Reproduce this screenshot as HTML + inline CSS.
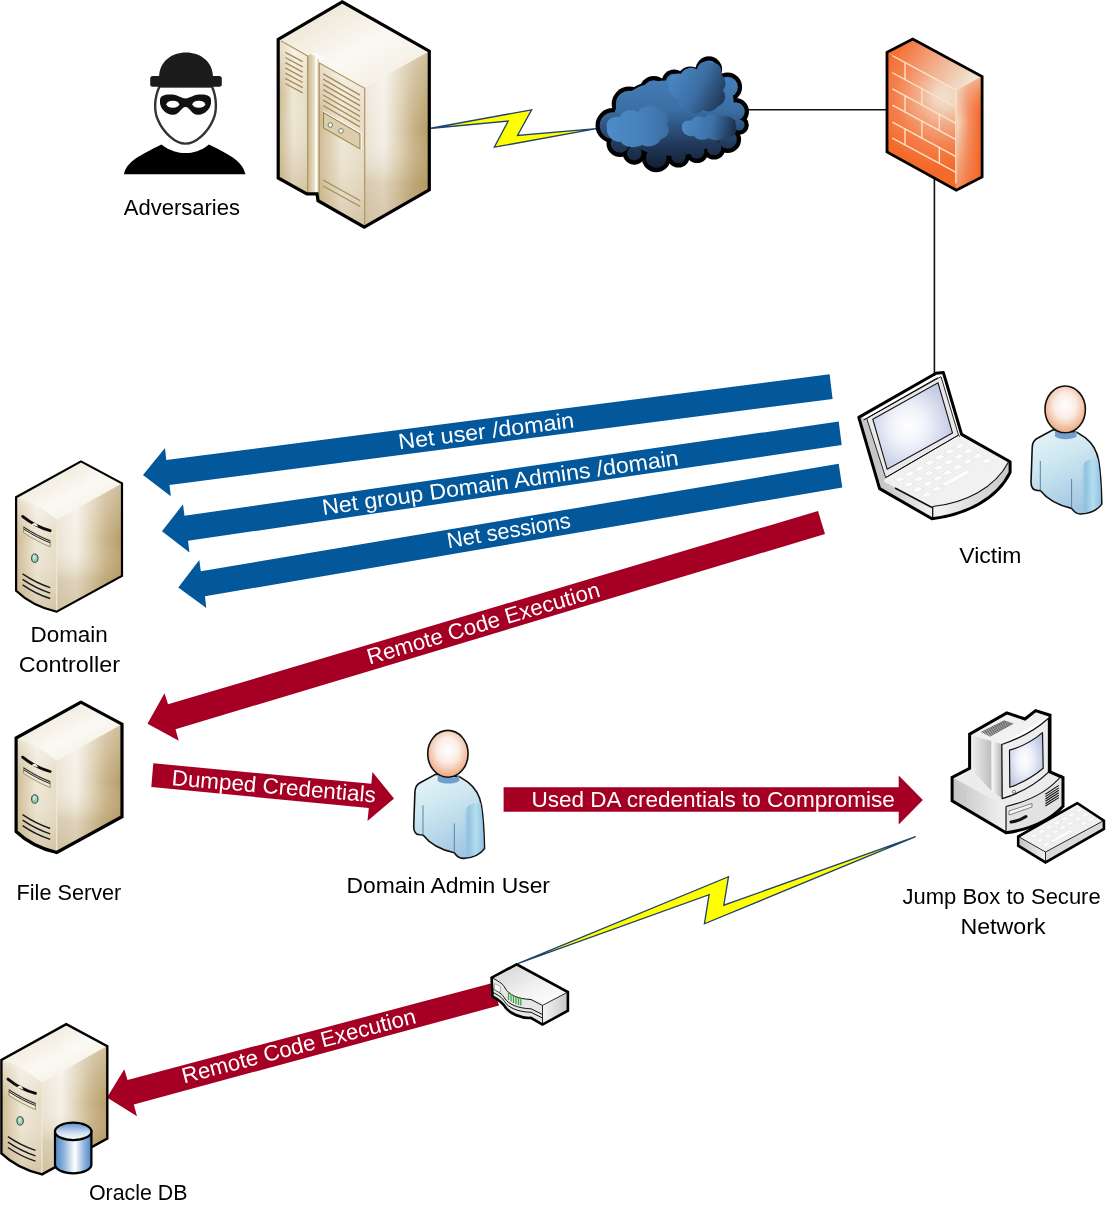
<!DOCTYPE html>
<html>
<head>
<meta charset="utf-8">
<title>Attack path diagram</title>
<style>
html,body{margin:0;padding:0;background:#fff;}
body{width:1120px;height:1220px;overflow:hidden;font-family:"Liberation Sans",sans-serif;}
svg{display:block;will-change:transform;filter:blur(0.45px);}
text{font-family:"Liberation Sans",sans-serif;font-size:22px;}
.lbl{fill:#000;}
.wt{fill:#fff;}
</style>
</head>
<body>
<svg width="1120" height="1220" viewBox="0 0 1120 1220">
<defs>

<linearGradient id="gTop" x1="0" y1="0" x2="1" y2="1">
<stop offset="0" stop-color="#e9dfca"/><stop offset="0.55" stop-color="#fbf9f4"/><stop offset="1" stop-color="#f1eadb"/>
</linearGradient>
<linearGradient id="gFront" x1="0" y1="0" x2="1" y2="0">
<stop offset="0" stop-color="#cdb98f"/><stop offset="0.5" stop-color="#eee6d5"/><stop offset="1" stop-color="#e6dcc5"/>
</linearGradient>
<linearGradient id="gSide" x1="0" y1="0" x2="1" y2="0">
<stop offset="0" stop-color="#ebe3d3"/><stop offset="0.3" stop-color="#f4f0e7"/><stop offset="0.52" stop-color="#e0d4b9"/><stop offset="0.75" stop-color="#c8b388"/><stop offset="1" stop-color="#b69c66"/>
</linearGradient>
<linearGradient id="gSideV" x1="0" y1="0" x2="0" y2="1">
<stop offset="0" stop-color="#ffffff" stop-opacity="0.35"/><stop offset="0.45" stop-color="#ffffff" stop-opacity="0"/><stop offset="0.75" stop-color="#a88a52" stop-opacity="0.28"/><stop offset="1" stop-color="#a88a52" stop-opacity="0.4"/>
</linearGradient>
<linearGradient id="gGroove" x1="0" y1="0" x2="1" y2="0">
<stop offset="0" stop-color="#c9b68c"/><stop offset="0.6" stop-color="#e9dfc8"/><stop offset="0.75" stop-color="#ffffff"/><stop offset="1" stop-color="#cdbb94"/>
</linearGradient>
<linearGradient id="gFrontV" x1="0" y1="0" x2="0" y2="1">
<stop offset="0" stop-color="#fff" stop-opacity="0.55"/><stop offset="0.35" stop-color="#fff" stop-opacity="0"/><stop offset="1" stop-color="#a98f5a" stop-opacity="0.35"/>
</linearGradient>

<linearGradient id="gCloud" gradientUnits="userSpaceOnUse" x1="0" y1="60" x2="0" y2="170">
<stop offset="0" stop-color="#4a86c2"/><stop offset="0.45" stop-color="#3b6fa4"/><stop offset="0.75" stop-color="#233c5e"/><stop offset="1" stop-color="#111c30"/>
</linearGradient>
<linearGradient id="gCl1" gradientUnits="userSpaceOnUse" x1="606" y1="0" x2="672" y2="0">
<stop offset="0" stop-color="#4e8cc8"/><stop offset="0.6" stop-color="#457fb9"/><stop offset="1" stop-color="#3a6a9e"/>
</linearGradient>
<linearGradient id="gCl2" gradientUnits="userSpaceOnUse" x1="668" y1="75" x2="726" y2="105">
<stop offset="0" stop-color="#4c89c5"/><stop offset="0.5" stop-color="#3c6ea4"/><stop offset="1" stop-color="#1c2f4c"/>
</linearGradient>
<linearGradient id="gCl3" gradientUnits="userSpaceOnUse" x1="682" y1="120" x2="737" y2="130">
<stop offset="0" stop-color="#4d8bc7"/><stop offset="0.55" stop-color="#3d70a6"/><stop offset="1" stop-color="#1a2b46"/>
</linearGradient>
<radialGradient id="gFwFront" gradientUnits="userSpaceOnUse" cx="945" cy="96" r="72">
<stop offset="0" stop-color="#efdfcb"/><stop offset="0.14" stop-color="#f0d7c1"/><stop offset="0.4" stop-color="#f3a985"/><stop offset="0.7" stop-color="#f47f4b"/><stop offset="1" stop-color="#f46a2b"/>
</radialGradient>
<linearGradient id="gFwTop" gradientUnits="userSpaceOnUse" x1="900" y1="45" x2="965" y2="88">
<stop offset="0" stop-color="#f46f33"/><stop offset="0.45" stop-color="#f3a682"/><stop offset="1" stop-color="#eee3cf"/>
</linearGradient>
<linearGradient id="gFwSide" gradientUnits="userSpaceOnUse" x1="957" y1="0" x2="980" y2="0">
<stop offset="0" stop-color="#f2dcc8"/><stop offset="0.5" stop-color="#f4936a"/><stop offset="1" stop-color="#f4692a"/>
</linearGradient>
<linearGradient id="gFwSideV" x1="0" y1="0" x2="0" y2="1">
<stop offset="0" stop-color="#f2e4d0" stop-opacity="0.6"/><stop offset="0.4" stop-color="#f4692a" stop-opacity="0"/><stop offset="1" stop-color="#f4692a" stop-opacity="0.7"/>
</linearGradient>
<radialGradient id="gHead" cx="0.5" cy="0.42" r="0.6">
<stop offset="0" stop-color="#ffffff"/><stop offset="0.45" stop-color="#fbece4"/><stop offset="0.85" stop-color="#efb795"/><stop offset="1" stop-color="#e8a27c"/>
</radialGradient>
<linearGradient id="gBody" x1="0.2" y1="0" x2="0.6" y2="1">
<stop offset="0" stop-color="#e4f3f7"/><stop offset="0.35" stop-color="#cfe8f1"/><stop offset="1" stop-color="#9fc6e2"/>
</linearGradient>
<linearGradient id="gArm" x1="0" y1="0" x2="1" y2="0">
<stop offset="0" stop-color="#9cc6e3" stop-opacity="0"/><stop offset="0.22" stop-color="#8dbfe0"/><stop offset="0.6" stop-color="#b5e0f0"/><stop offset="1" stop-color="#8fc0e0"/>
</linearGradient>

<radialGradient id="gScreen" cx="0.45" cy="0.5" r="0.6">
<stop offset="0" stop-color="#ffffff"/><stop offset="0.35" stop-color="#f1f3fa"/><stop offset="1" stop-color="#bcc6e2"/>
</radialGradient>
<linearGradient id="gGrayH" x1="0" y1="0" x2="1" y2="0">
<stop offset="0" stop-color="#c4c4c4"/><stop offset="1" stop-color="#f2f2f2"/>
</linearGradient>
<linearGradient id="gGrayH2" x1="0" y1="0" x2="1" y2="0">
<stop offset="0" stop-color="#f4f4f4"/><stop offset="1" stop-color="#c9c9c9"/>
</linearGradient>
<linearGradient id="gGrayV" x1="0" y1="0" x2="0" y2="1">
<stop offset="0" stop-color="#f6f6f6"/><stop offset="1" stop-color="#cfcfcf"/>
</linearGradient>
<linearGradient id="gCyl" x1="0" y1="0" x2="1" y2="0">
<stop offset="0" stop-color="#4f86c4"/><stop offset="0.2" stop-color="#7fa9d6"/><stop offset="0.55" stop-color="#ffffff"/><stop offset="0.8" stop-color="#8fb4dc"/><stop offset="1" stop-color="#4f86c4"/>
</linearGradient>
<linearGradient id="gCylTop" x1="0" y1="0" x2="0" y2="1">
<stop offset="0" stop-color="#5e92cc"/><stop offset="0.6" stop-color="#cfe0f2"/><stop offset="1" stop-color="#ffffff"/>
</linearGradient>
<linearGradient id="gRtTop" x1="0" y1="0" x2="1" y2="1">
<stop offset="0" stop-color="#d2d2d2"/><stop offset="0.6" stop-color="#f4f4f4"/><stop offset="1" stop-color="#ffffff"/>
</linearGradient>
<linearGradient id="gMonL" x1="0" y1="0" x2="1" y2="0">
<stop offset="0" stop-color="#f0f0f0"/><stop offset="0.5" stop-color="#d6d6d6"/><stop offset="1" stop-color="#bdbdbd"/>
</linearGradient>
<linearGradient id="gMonB" x1="0" y1="0" x2="1" y2="0">
<stop offset="0" stop-color="#fafafa"/><stop offset="1" stop-color="#b4b4b4"/>
</linearGradient>
<!--DEFS-->
</defs>
<rect x="0" y="0" width="1120" height="1220" fill="#ffffff"/>

<!-- connector lines -->
<g stroke="#111" stroke-width="1.6" fill="none">
<line x1="747" y1="109.8" x2="888" y2="109.8"/>
<line x1="934.4" y1="176" x2="934.4" y2="376"/>
</g>

<!-- lightning links -->
<g fill="#ffff00" stroke="#1f426e" stroke-width="1.3" stroke-linejoin="miter">
<path d="M429.3,128.5 L531.6,109.8 L517.5,135.5 L596.4,128.7 L494.3,147.2 L508.2,121 Z"/>
<path d="M517.7,963.7 L728.5,876.7 L723.8,905.2 L915.6,836.6 L704.4,923.8 L709.1,894.7 Z"/>
</g>

<!-- blue arrows -->
<g fill="#03579b">
<path d="M143,475 L165,448 L166.3,460 L829.6,374.3 L832.6,398.9 L169.5,485 L170.8,496.3 Z"/>
<path d="M162,531.3 L183,504.3 L184.5,515.8 L838.7,421.6 L841.7,445 L188,540.8 L189.5,552.5 Z"/>
<path d="M178.3,587.5 L199.3,560 L200.8,571.3 L838.7,463.8 L842.3,487.5 L205,596.3 L206.3,608 Z"/>
</g>

<!-- red arrows -->
<g fill="#a50024">
<path d="M147.5,723.8 L164.5,693.3 L168,704.3 L818,511 L825,534 L175.5,729.3 L178.8,740.8 Z"/>
<path d="M153.3,763.3 L371.3,783.8 L372.5,772 L394,798.5 L367.5,821 L368.8,808 L151.3,787 Z"/>
<path d="M503.6,787.3 L898.7,787.3 L898.7,775.6 L922.9,800 L898.7,824.6 L898.7,811.8 L503.6,811.8 Z"/>
<path d="M107,1097.5 L124.3,1069.3 L127.5,1080 L492.6,983 L499,1005.5 L133.8,1104.5 L137,1116.3 Z"/>
</g>

<!-- arrow labels -->
<g class="wt">
<text class="wt" transform="translate(399.3,449.3) rotate(-7.1)" textLength="177" lengthAdjust="spacingAndGlyphs">Net user /domain</text>
<text class="wt" transform="translate(323.2,515) rotate(-8)" textLength="359.6" lengthAdjust="spacingAndGlyphs">Net group Domain Admins /domain</text>
<text class="wt" transform="translate(448.2,548.2) rotate(-9.5)" textLength="125" lengthAdjust="spacingAndGlyphs">Net sessions</text>
<text class="wt" transform="translate(369.5,664.5) rotate(-16.4)" textLength="241.6" lengthAdjust="spacingAndGlyphs">Remote Code Execution</text>
<text class="wt" transform="translate(171.3,785) rotate(4.9)" textLength="204.5" lengthAdjust="spacingAndGlyphs">Dumped Credentials</text>
<text class="wt" x="531.4" y="807.3" textLength="363.5" lengthAdjust="spacingAndGlyphs">Used DA credentials to Compromise</text>
<text class="wt" transform="translate(184.1,1083.5) rotate(-14.6)" textLength="240.9" lengthAdjust="spacingAndGlyphs">Remote Code Execution</text>
</g>

<!-- black labels -->
<g class="lbl">
<text x="123.7" y="215.2" textLength="116.3" lengthAdjust="spacingAndGlyphs">Adversaries</text>
<text x="959.3" y="562.9" textLength="62.1" lengthAdjust="spacingAndGlyphs">Victim</text>
<text x="30.5" y="641.8" textLength="77.3" lengthAdjust="spacingAndGlyphs">Domain</text>
<text x="18.7" y="672.3" textLength="101.3" lengthAdjust="spacingAndGlyphs">Controller</text>
<text x="16.6" y="900.1" textLength="104.6" lengthAdjust="spacingAndGlyphs">File Server</text>
<text x="346.5" y="892.6" textLength="203.5" lengthAdjust="spacingAndGlyphs">Domain Admin User</text>
<text x="902.5" y="903.9" textLength="198.2" lengthAdjust="spacingAndGlyphs">Jump Box to Secure</text>
<text x="960.4" y="933.9" textLength="85.2" lengthAdjust="spacingAndGlyphs">Network</text>
<text x="88.9" y="1199.6" textLength="98.6" lengthAdjust="spacingAndGlyphs">Oracle DB</text>
</g>


<!-- adversary -->
<g id="adversary">
<path d="M159.5,86.5 C154,98 154,112 158,120 C163,132 175,143.6 185.5,143.6 C196,143.6 208,132 213,120 C217,112 217,98 212,86.5 Z" fill="#fff" stroke="#333" stroke-width="2.4"/>
<path d="M159,78 C159,61 172,52.5 186,52.5 C200,52.5 213,61 213,78 Z" fill="#1c1c1c"/>
<rect x="150.2" y="76" width="71.6" height="10.8" rx="2.5" fill="#1c1c1c"/>
<path d="M160,100 C160,95 166,94 172,94.5 C178,95 182,98.5 185.5,98.5 C189,98.5 193,95 199,94.5 C205,94 211,95 211,100 C212,108 205,115 198,114.8 C191,114.5 190,107 185.5,107 C181,107 180,114.5 173,114.8 C166,115 159,108 160,100 Z" fill="#111"/>
<ellipse cx="172.8" cy="104.2" rx="6.4" ry="3.5" fill="#fff"/>
<ellipse cx="198.8" cy="104.2" rx="6.4" ry="3.5" fill="#fff"/>
<path d="M124,174.3 C126,162 140,155 161.4,144.4 C170,151 178,153 185.5,153 C193,153 201,151 208.9,144.4 C231,155 243,162 245.5,174.3 Z" fill="#000"/>
</g>

<!-- big server -->
<g id="bigserver">
<path d="M342.2,2 L278.5,39.5 L306.8,54.1 L318,62 L364.3,87.5 L429,51.5 Z" fill="url(#gTop)"/>
<path d="M279,40 L307.6,55.9 L307.6,194 L279,178 Z" fill="url(#gFront)"/>
<path d="M279,40 L307.6,55.9 L307.6,194 L279,178 Z" fill="url(#gFrontV)"/>
<path d="M307.6,55.9 L310.7,54.1 L316,52.3 L318.8,56 L318.8,194 L307.6,194 Z" fill="url(#gGroove)"/>
<path d="M310.7,54.1 L316,52.3 L326.8,58.6 L321.4,61.3 L318.8,60 L316,56.500 Z" fill="#fbf9f5"/>
<path d="M318.8,63 L364.7,88 L364.3,226.5 L318.8,200.5 Z" fill="url(#gFront)"/>
<path d="M318.8,63 L364.7,88 L364.3,226.5 L318.8,200.5 Z" fill="url(#gFrontV)"/>
<path d="M364.3,87.5 L429,51.5 L429,189.8 L364.3,226.5 Z" fill="url(#gSide)"/>
<path d="M364.3,87.5 L429,51.5 L429,189.8 L364.3,226.5 Z" fill="url(#gSideV)"/>
<g stroke="#a78b58" stroke-width="1.4" fill="none">
<path d="M285.3,52.3 L302.7,61.7 M285.3,57.5 L302.7,66.9 M285.3,62.7 L302.7,72.1 M285.3,67.9 L302.7,77.3 M285.3,73.1 L302.7,82.5 M285.3,78.3 L302.7,87.7 M285.3,83.5 L302.7,92.9"/>
<path d="M323.1,73.9 L360,95.2 M323.1,79.2 L360,100.5 M323.1,84.4 L360,105.7 M323.1,89.7 L360,111.0 M323.1,95.0 L360,116.3 M323.1,100.2 L360,121.5 M323.1,105.5 L360,126.8"/>
<path d="M323,180 L360.3,200.7 M323,186 L360.3,206.6" stroke-width="1.1"/>
</g>
<g stroke="#b2965f" stroke-width="1.2" fill="none">
<path d="M280.8,40.7 L307.6,55.9 L307.6,193.5"/>
<path d="M319.3,200 L319.3,63 L364.7,88.3 L364.7,226"/>
</g>
<path d="M316.500,56 L316.500,193" stroke="#ffffff" stroke-width="1.300" fill="none"/>
<path d="M323.5,112.5 L360,133.8 L360,148.9 L323.5,128 Z" fill="#dccdab" stroke="#9c8350" stroke-width="1.1"/>
<path d="M323.5,111.300 L361.300,133.300 L361.300,149.500" fill="none" stroke="#fffdf8" stroke-width="1"/>
<circle cx="330.3" cy="125" r="2.3" fill="#f4f8f4" stroke="#6c7f70" stroke-width="1"/>
<circle cx="341" cy="130.9" r="2.3" fill="#f4f8f4" stroke="#6c7f70" stroke-width="1"/>
<path d="M342.2,1.8 L278.2,39.3 L278.2,178 L306.8,193.8 L317,193.8 L318,200.7 L364.3,227.2 L429.3,189.8 L429.3,51.1 Z" fill="none" stroke="#000" stroke-width="3.2" stroke-linejoin="miter"/>
</g>

<!-- tower server (domain controller position) -->
<g id="tower">
<path d="M81,461.4 L16.1,497.2 Q38,504 56.7,519.8 L122,483.4 Z" fill="url(#gTop)"/>
<path d="M16.1,497.2 Q38,504 56.7,519.8 L56.7,611.7 Q32,606 16.1,590.7 Z" fill="url(#gFront)"/>
<path d="M16.1,497.2 Q38,504 56.7,519.8 L56.7,611.7 Q32,606 16.1,590.7 Z" fill="url(#gFrontV)"/>
<path d="M56.7,519.8 L122,483.4 L122,575.9 L56.7,611.7 Z" fill="url(#gSide)"/>
<path d="M56.7,519.8 L122,483.4 L122,575.9 L56.7,611.7 Z" fill="url(#gSideV)"/>
<path d="M56.7,520 L56.7,611" stroke="#efe8d8" stroke-width="1.2" fill="none"/>
<path d="M22.6,516.4 Q35,526.5 50.2,530.7" fill="none" stroke="#0c0c0c" stroke-width="2.8" stroke-linecap="round"/><path d="M31.600,524.8 Q33,522.300 35.500,523.300 Q37,524 38.200,526.800 Z" fill="#f4efe4"/>
<path d="M23.6,526.7 Q38,536 50.2,540.5 L50.2,546.8 Q38,542 23.6,532.6 Z" fill="#ece5d3" stroke="#7d6c48" stroke-width="0.7"/>
<path d="M23.6,527.2 Q38,536.5 50.2,541 M23.6,529 Q38,538.3 50.2,542.8" fill="none" stroke="#222" stroke-width="1"/>
<ellipse cx="34.8" cy="558.2" rx="3.2" ry="4.2" fill="#9ccab6" stroke="#274838" stroke-width="1"/><ellipse cx="34.300" cy="557.2" rx="1.3" ry="2.2" fill="#cfe6dc"/>
<path d="M22.6,573.9 Q36,583 50.2,587.7 M22.6,579.4 Q36,588.5 50.2,593.1 M22.6,584.8 Q36,594 50.2,598.5" fill="none" stroke="#1a1a1a" stroke-width="1.4"/>
</g>
<path d="M81,461.4 L16.1,497.2 L16.1,590.7 Q32,606 56.7,611.7 L122,575.9 L122,483.4 Z" fill="none" stroke="#000" stroke-width="2.2" stroke-linejoin="miter"/>

<!-- file server -->
<g transform="translate(0,240.8)">
<use href="#tower"/>
<path d="M81,461.4 L16.1,497.2 L16.1,590.7 Q32,606 56.7,611.7 L122,575.9 L122,483.4 Z" fill="none" stroke="#000" stroke-width="3.2" stroke-linejoin="miter"/>
</g>

<!-- oracle db server -->
<g transform="translate(-14.7,562.7)">
<use href="#tower"/>
<path d="M81,461.4 L16.1,497.2 L16.1,590.7 Q32,606 56.7,611.7 L122,575.9 L122,483.4 Z" fill="none" stroke="#000" stroke-width="2.4" stroke-linejoin="miter"/>
</g>

<!-- cloud -->
<g id="cloud">
<g fill="#000"><circle cx="708.9" cy="69.5" r="13.2"/><circle cx="690.3" cy="80.0" r="13.5"/><circle cx="674.1" cy="82.0" r="12.5"/><circle cx="653.8" cy="90.5" r="14.5"/><circle cx="629.2" cy="104.0" r="17.5"/><circle cx="613.0" cy="125.5" r="17.5"/><circle cx="620.0" cy="143.5" r="13.5"/><circle cx="634.3" cy="153.2" r="11.5"/><circle cx="656.3" cy="157.7" r="14.5"/><circle cx="678.4" cy="156.0" r="11.5"/><circle cx="697.0" cy="151.5" r="11.5"/><circle cx="714.0" cy="148.0" r="11.5"/><circle cx="727.6" cy="139.5" r="13.5"/><circle cx="735.5" cy="111.5" r="13.5"/><circle cx="727.6" cy="87.0" r="14.5"/><circle cx="739.0" cy="125.0" r="9.8"/><ellipse cx="672" cy="118" rx="60" ry="40"/><ellipse cx="700" cy="105" rx="36" ry="38"/></g>
<g fill="url(#gCloud)"><circle cx="708.9" cy="69.5" r="9.0"/><circle cx="690.3" cy="80.0" r="9.3"/><circle cx="674.1" cy="82.0" r="8.3"/><circle cx="653.8" cy="90.5" r="10.3"/><circle cx="629.2" cy="104.0" r="13.3"/><circle cx="613.0" cy="125.5" r="13.3"/><circle cx="620.0" cy="143.5" r="9.3"/><circle cx="634.3" cy="153.2" r="7.3"/><circle cx="656.3" cy="157.7" r="10.3"/><circle cx="678.4" cy="156.0" r="7.3"/><circle cx="697.0" cy="151.5" r="7.3"/><circle cx="714.0" cy="148.0" r="7.3"/><circle cx="727.6" cy="139.5" r="9.3"/><circle cx="735.5" cy="111.5" r="9.3"/><circle cx="727.6" cy="87.0" r="10.3"/><circle cx="739.0" cy="125.0" r="5.6"/><ellipse cx="672" cy="118" rx="58" ry="38"/><ellipse cx="700" cy="105" rx="34" ry="36"/></g>
<path d="M607,128 C605,120 612,116 620,117 C622,110 632,108 638,112 C642,105 656,104 661,110 C668,112 670,120 667,125 C671,130 668,138 661,139 C658,146 648,148 642,145 C634,149 624,147 621,142 C612,142 606,135 607,128 Z" fill="url(#gCl1)"/>
<path d="M669,86 C667,78 674,72 681,74 C684,68 692,66 697,69.5 C698,62 706,59.500 712,63 C718,62 723,68 721,74 C726,78 727,86 723,90 C727,96 725,104 718,106 C715,111 708,113 703,110 C698,115 690,114 688,109 C681,109 677,104 679,99 C672,98 668,92 669,86 Z" fill="url(#gCl2)"/>
<path d="M682,128 C681,123 686,119 691,121 C693,116 701,115 704,118 C708,113 717,113 720,117 C728,114 737,119 736,127 C738,133 732,139 725,137 C721,141 712,141 709,138 C704,141 696,140 694,136 C687,137 682,133 682,128 Z" fill="url(#gCl3)"/>
</g>

<!-- firewall -->
<g id="firewall">
<path d="M912.8,39 L887,52.3 L957,89.9 L982,76.6 Z" fill="url(#gFwTop)"/>
<path d="M887,52.3 L957,89.9 L957,190 L887,151.9 Z" fill="url(#gFwFront)"/>
<path d="M957,89.9 L982,76.6 L982,177 L956.3,190.2 Z" fill="url(#gFwSide)"/>
<path d="M957,89.9 L982,76.6 L982,177 L956.3,190.2 Z" fill="url(#gFwSideV)"/>
<g stroke="#fbe3c6" stroke-width="1.4" fill="none" stroke-linecap="round">
<path d="M892.9,56 L955.6,89.9 M892.9,73 L955.6,106.9 M892.9,89.2 L955.6,123.1 M892.9,105.4 L955.6,139.3 M892.9,122.4 L955.6,156.3 M892.9,138.3 L955.6,172.2"/>
<path d="M905,62.5 L905,79.5 M921.9,88.7 L921.9,104.9 M905,95.7 L905,111.9 M939.3,114.3 L939.3,130.5 M921.9,121.1 L921.9,138.1 M905,128.9 L905,144.8 M939.3,147.5 L939.3,163.4"/>
<path d="M955.9,90 L955.9,183"/>
</g>
<path d="M912.8,39 L887,52.3 L887,151.9 L956.3,190.2 L982.1,177 L982.1,76.6 Z" fill="none" stroke="#000" stroke-width="2.8" stroke-linejoin="miter"/>
</g>

<!-- user (victim position) -->
<g id="user">
<path d="M1053.2,429.7 L1036.5,438.8 C1033,441 1032.3,444 1032.2,448 L1031,482 C1031,487 1032.5,490 1037,490.4 L1040.3,490.6 C1047,499 1058,505.5 1071.6,508.4 C1074,512 1077.5,514.2 1081,514 C1089,513.5 1097.5,510 1101.8,504.1 C1101.5,490 1100.5,472 1098.7,461 C1097,450 1092,443 1085.2,437.7 L1076.6,432.2 Z" fill="url(#gBody)" stroke="#111" stroke-width="1.6" stroke-linejoin="round"/>
<path d="M1081.5,470 C1082,462 1088,458.5 1097.8,458.6 C1100,470 1101,490 1101,503.5 C1097,509 1090,512.5 1081.8,513 C1081,500 1081,485 1081.5,470 Z" fill="url(#gArm)" opacity="0.9"/>
<path d="M1040.3,461 L1040.3,490.4 M1071.6,479 L1071.6,508" stroke="#5a84a8" stroke-width="1" fill="none"/>
<path d="M1055,430.5 C1060,434 1072,434.5 1076.6,431.2 L1076.6,436.5 C1071,440 1060,440 1055,436.5 Z" fill="#6f9fcd"/>
<ellipse cx="1065.2" cy="409.4" rx="20.2" ry="23.4" fill="url(#gHead)" stroke="#111" stroke-width="1.6"/>
</g>
<!-- domain admin user -->
<use href="#user" transform="translate(-617.3,344.4)"/>

<!-- laptop -->
<g id="laptop">
<!-- base top -->
<path d="M881,480 L960,436 L1008.5,462 C995,488 965,503 932.7,506.5 Z" fill="#f1f1f1"/>
<!-- base front/left sides -->
<path d="M881,480 L932.7,506.5 L932.7,517.5 L880,489 Z" fill="url(#gGrayH)"/>
<path d="M932.7,506.5 C965,503 995,488 1008.5,462 L1009.5,472 C996,498 966,513 932.7,517.5 Z" fill="url(#gGrayH2)"/>
<!-- keys -->
<g fill="#fcfcfc" stroke="#e1e1e1" stroke-width="0.6">
<path d="M894,480 l6.5,-3.6 l5,2.6 l-6.5,3.6z M904,474.4 l6.5,-3.6 l5,2.6 l-6.5,3.6z M914,468.8 l6.5,-3.6 l5,2.6 l-6.5,3.6z M924,463.2 l6.5,-3.6 l5,2.6 l-6.5,3.6z M934,457.6 l6.5,-3.6 l5,2.6 l-6.5,3.6z M944,452 l6.5,-3.6 l5,2.6 l-6.5,3.6z M954,446.4 l6.5,-3.6 l5,2.6 l-6.5,3.6z"/>
<path d="M903,485 l6.5,-3.6 l5,2.6 l-6.5,3.6z M913,479.4 l6.5,-3.6 l5,2.6 l-6.5,3.6z M923,473.8 l6.5,-3.6 l5,2.6 l-6.5,3.6z M933,468.2 l6.5,-3.6 l5,2.6 l-6.5,3.6z M943,462.6 l6.5,-3.6 l5,2.6 l-6.5,3.6z M953,457 l6.5,-3.6 l5,2.6 l-6.5,3.6z M963,451.4 l6.5,-3.6 l5,2.6 l-6.5,3.6z"/>
<path d="M912,490 l6.5,-3.6 l5,2.6 l-6.5,3.6z M922,484.4 l6.5,-3.6 l5,2.6 l-6.5,3.6z M932,478.8 l6.5,-3.6 l5,2.6 l-6.5,3.6z M942,473.2 l6.5,-3.6 l5,2.6 l-6.5,3.6z M952,467.6 l6.5,-3.6 l5,2.6 l-6.5,3.6z M962,462 l6.5,-3.6 l5,2.6 l-6.5,3.6z M972,456.4 l6.5,-3.6 l5,2.6 l-6.5,3.6z"/>
<path d="M921,495 l6.5,-3.6 l5,2.6 l-6.5,3.6z M931,489.4 l6.5,-3.6 l5,2.6 l-6.5,3.6z M941,483.8 l26,-14.4 l5,2.6 l-26,14.4z M981,461.4 l6.5,-3.6 l5,2.6 l-6.5,3.6z"/>
</g>
<!-- lid side + bezel -->
<path d="M859.5,417.5 L866.7,418.4 L885.7,477.6 L880,489 Z" fill="#c6c6c6"/>
<path d="M866.7,418.4 L941,376.7 L958.5,435.1 L885.7,477.6 Z" fill="#e9e9e9" stroke="#111" stroke-width="0.9"/>
<path d="M872.8,419.2 L938,382.8 L952.5,432.9 L887.2,469.3 Z" fill="url(#gScreen)" stroke="#111" stroke-width="1.1"/>
<path d="M885.7,477.6 L958.5,435.1 L960,436.5" fill="none" stroke="#111" stroke-width="1"/>
<path d="M895,488 L932,507.5" stroke="#111" stroke-width="1.6" fill="none"/>
<path d="M932.7,506.5 L932.7,518" stroke="#111" stroke-width="1.3" fill="none"/>
<path d="M932.7,506.5 C965,503 995,488 1008.5,462" stroke="#111" stroke-width="1.1" fill="none"/>
<!-- outline -->
<path d="M943.4,372.6 L936,373.2 L858.8,417.4 L879.6,488.6 L932,518.8 C966,514.5 997,499 1010.1,472.3 L1010.1,461.7 L961.6,434.4 Z" fill="none" stroke="#000" stroke-width="3" stroke-linejoin="round"/>
<path d="M936.5,375.5 L862.5,417.8" stroke="#000" stroke-width="1" fill="none" transform="translate(1.2,2.2)"/>
</g>

<!-- desktop pc -->
<g id="pc">
<!-- base unit -->
<path d="M953,777.5 L1008,753 L1062,775 C1050,790 1030,801 1006,806.5 Z" fill="#ececec"/>
<path d="M953,777.5 L1006,806.5 L1006,832 L953,800.5 Z" fill="url(#gGrayH)"/>
<path d="M1006,806.5 C1030,801 1050,790 1062,775 L1062,805.5 C1050,818 1030,828 1006,832 Z" fill="#e2e2e2"/>
<path d="M1006,806.5 C1030,801 1050,790 1062,775" fill="none" stroke="#111" stroke-width="1.2"/>
<path d="M1006,806.5 L1006,832" stroke="#111" stroke-width="1.2"/>
<g stroke="#111" stroke-width="1.05" fill="none">
<path d="M1045.4,794.3 L1058.8,785.4 M1045.4,796.6 L1058.8,787.9 M1045.4,799.0 L1058.8,790.3 M1045.4,801.3 L1058.8,792.8 M1045.4,803.7 L1058.8,795.2 M1045.4,806.0 L1058.8,797.6"/>
</g>
<path d="M1009,811 L1032,803.5 L1032,807 L1009,815 Z" fill="#f6f6f6" stroke="#555" stroke-width="0.7"/>
<path d="M1011,822 Q1019,821 1026,816.5" fill="none" stroke="#111" stroke-width="3" stroke-linecap="round"/>
<path d="M959,786 L959,799 M962,788 L962,801 M965,790 L965,803" stroke="#c9c9c9" stroke-width="1.6"/>
<!-- monitor body -->
<path d="M971,735.5 L1007,714.5 L1025,720 L1002,744 L991.6,741 Z" fill="#f1f1f1"/>
<path d="M1025,720 L1035.6,712 L1049,716 L1002,744 Z" fill="#f1f1f1"/>
<path d="M971,735.5 L991.6,741 L991.6,791 L971,769 Z" fill="url(#gMonL)"/>
<path d="M991.6,741 L1002,744 L1002,798 L991.6,791 Z" fill="url(#gMonB)"/>
<g stroke="#111" stroke-width="0.65" fill="none">
<path d="M981.3,732.3 L1004.7,720.6 M982.7,733.0 L1006.1,721.1 M984.1,733.6 L1007.5,721.5 M985.4,734.3 L1008.9,722.0 M986.8,735.0 L1010.3,722.5 M988.2,735.6 L1011.7,723.0 M989.6,736.3 L1013.1,723.4"/>
</g>
<!-- monitor front bezel -->
<path d="M1001.8,744.5 Q1030,735 1048.5,718.2 L1048.5,772.1 Q1030,790 1002.2,798.7 Z" fill="#ededed" stroke="#111" stroke-width="1.3" stroke-linejoin="round"/>
<path d="M1009.5,750.1 Q1028,745 1042.5,732.6 L1043.2,768.3 Q1028,781 1009.8,787.3 Z" fill="url(#gScreen)" stroke="#111" stroke-width="1.2" stroke-linejoin="round"/>
<circle cx="1014.1" cy="791.8" r="1.5" fill="#fff" stroke="#333" stroke-width="0.7"/>
<!-- outlines -->
<path d="M1006.8,712.9 L1025,719 L1035.6,710.6 L1050,715.2 L1050,772 L1063,777.5 L1063,806.3 C1050,820 1030,829.5 1006,832.8 L952.1,800.9 L952.1,777.4 L969.6,768.3 L969.6,734.2 Z" fill="none" stroke="#000" stroke-width="3" stroke-linejoin="miter"/>
<!-- keyboard -->
<path d="M1077.4,804.2 L1019.2,837 L1045.5,852 L1103,821 Z" fill="#f0f0f0"/>
<path d="M1019.2,837 L1045.5,852 L1045.5,861 L1019.2,845.5 Z" fill="url(#gGrayH)"/>
<path d="M1045.5,852 L1103,821 L1103,829 L1045.5,861 Z" fill="#dadada"/>
<g fill="#fcfcfc" stroke="#e1e1e1" stroke-width="0.6">
<path d="M1030,836 l5,-2.8 l3.6,2 l-5,2.8z M1037.5,831.8 l5,-2.8 l3.6,2 l-5,2.8z M1045,827.6 l5,-2.8 l3.6,2 l-5,2.8z M1052.5,823.4 l5,-2.8 l3.6,2 l-5,2.8z M1060,819.2 l5,-2.8 l3.6,2 l-5,2.8z M1067.5,815 l5,-2.8 l3.6,2 l-5,2.8z M1075,810.8 l5,-2.8 l3.6,2 l-5,2.8z"/>
<path d="M1036,840.5 l5,-2.8 l3.6,2 l-5,2.8z M1043.5,836.3 l5,-2.8 l3.6,2 l-5,2.8z M1051,832.1 l5,-2.8 l3.6,2 l-5,2.8z M1058.5,827.9 l5,-2.8 l3.6,2 l-5,2.8z M1066,823.7 l5,-2.8 l3.6,2 l-5,2.8z M1073.500,819.5 l5,-2.8 l3.6,2 l-5,2.8z M1081,815.3 l5,-2.8 l3.6,2 l-5,2.8z"/>
<path d="M1042,845 l5,-2.8 l3.6,2 l-5,2.8z M1049.5,840.8 l20,-11.2 l3.6,2 l-20,11.2z M1079.500,824 l5,-2.8 l3.6,2 l-5,2.8z M1087,819.800 l5,-2.8 l3.6,2 l-5,2.8z"/>
</g>
<path d="M1019.2,837 L1045.5,852 L1103,821" fill="none" stroke="#111" stroke-width="0.9"/>
<path d="M1045.5,852 L1045.5,861" stroke="#111" stroke-width="0.9"/>
<path d="M1077.4,803.2 L1018.2,836.6 L1018.2,845.7 L1045.5,862.4 L1103.9,829 L1103.9,820.7 Z" fill="none" stroke="#000" stroke-width="2.6" stroke-linejoin="miter"/>
</g>

<!-- router -->
<g id="router">
<path d="M516.6,965 L492.5,978 C500,982 503,984 505,988 C509,995 518,999 531,999.500 L542.5,1005.4 L567,992.5 Z" fill="url(#gRtTop)"/>
<path d="M492.5,978 C500,982 503,984 505,988 C509,995 518,999 531,999.500 L542.5,1005.4 L542.5,1024 L531,1017.5 C520,1018 510,1012 505.900,1007 C503,1002 498,999 493,996.4 Z" fill="#e6e6e6"/>
<path d="M542.5,1005.4 L567,992.5 L567,1010.5 L542.5,1024 Z" fill="url(#gGrayH2)"/>
<path d="M492.5,978 C500,982 503,984 505,988 C509,995 518,999 531,999.500 L542.5,1005.4" fill="none" stroke="#111" stroke-width="1"/>
<path d="M493,989 C499,992 502,994 504.500,998 C508,1004 518,1008.500 531,1008.800 L542.5,1014.500 M493,992.5 C499,995.500 502,997.500 504.500,1001.500 C508,1007.500 518,1012 531,1012.300 L542.5,1018" fill="none" stroke="#111" stroke-width="1"/>
<rect x="494.500" y="983.5" width="6" height="6" fill="#fafafa" stroke="#aaa" stroke-width="0.8" transform="skewY(25) translate(0,-230.500)"/>
<path d="M508.500,992.5 L508.500,1000 M511,994 L511,1001.500 M513.500,995.500 L513.500,1003 M516,996.5 L516,1004 M518.500,997.5 L518.500,1005 M520.800,998 L520.800,1005.500" stroke="#3aa648" stroke-width="1.3" fill="none"/>
<path d="M542.5,1005.4 L542.5,1024 M542.5,1005.4 L567,992.5" stroke="#111" stroke-width="0.9" fill="none"/>
<path d="M516.6,964.3 L491.6,977.7 L492.5,996.4 C499,1000 503,1003 505.900,1008 C510,1013 520,1018.5 530.900,1017.900 L542.5,1024.600 L567.900,1010.700 L567.900,992 Z" fill="none" stroke="#000" stroke-width="2.6" stroke-linejoin="miter"/>
</g>

<!-- db cylinder -->
<g id="dbcyl">
<path d="M55,1131.400 L55,1164.500 A18.200,8.900 0 0 0 91.400,1164.500 L91.400,1131.400 Z" fill="url(#gCyl)" stroke="#000" stroke-width="2.2"/>
<ellipse cx="73.200" cy="1131.400" rx="18.200" ry="8.700" fill="url(#gCylTop)" stroke="#000" stroke-width="2.2"/>
</g>
<!--ICONS-->
</svg>
</body>
</html>
